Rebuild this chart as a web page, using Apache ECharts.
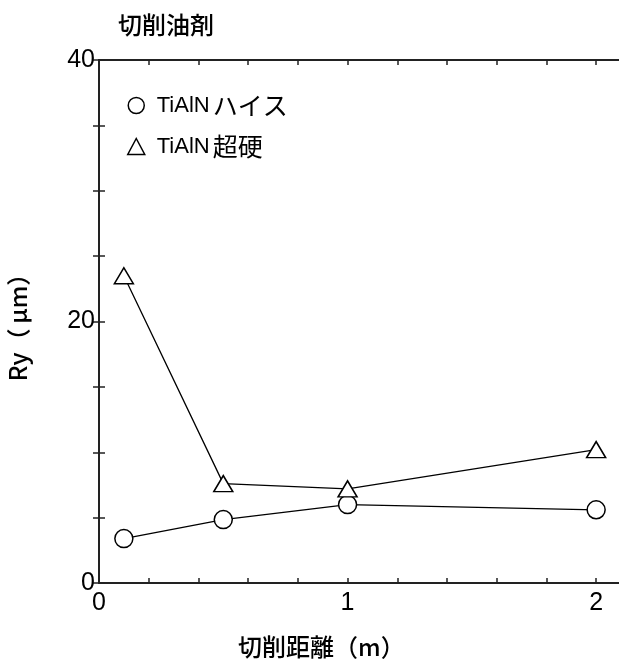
<!DOCTYPE html>
<html>
<head>
<meta charset="utf-8">
<script src="https://cdn.jsdelivr.net/npm/echarts@6/dist/echarts.min.js"></script>
<style>
html,body{margin:0;padding:0;background:#fff;}
#c{width:619px;height:661px;}
</style>
</head>
<body>
<div id="c"></div>
<script>
const titleText = '切削油剤';
const xName = '切削距離（m）';
const yName = 'Ry（\u2009μm）';
const seriesNames = ['TiAlNハイス', 'TiAlN超硬'];
const xValues = [0.1, 0.5, 1, 2];
const hssValues = [3.4, 4.85, 6.0, 5.6];
const carbideValues = [23.5, 7.6, 7.2, 10.2];
const xTickLabels = [0, 1, 2];
const yTickLabels = [0, 20, 40];

const FONT = '"Liberation Sans", Arial, "Noto Sans CJK JP", sans-serif';
const CJK = '"Noto Sans CJK JP", sans-serif';
const AX = '#222';

function pairs(ys){ return xValues.map((x,i)=>[x, ys[i]]); }
function xLab(v){ const r=Math.round(v); return (Math.abs(v-r)<1e-6 && xTickLabels.indexOf(r)>=0) ? String(r) : ''; }
function yLab(v){ const r=Math.round(v); return (Math.abs(v-r)<1e-6 && yTickLabels.indexOf(r)>=0) ? String(r) : ''; }
function legendFmt(name){
  const m = name.match(/^([A-Za-z]+)(.*)$/);
  return m ? '{a|' + m[1] + '}{b|' + m[2] + '}' : name;
}

const chart = echarts.init(document.getElementById('c'), null, {renderer:'canvas'});
const gridBox = {left:99, top:60, width:522, height:523, containLabel:false, outerBoundsMode:'none'};
const baseX = {type:'value', min:0, max:2.1, interval:0.2, splitLine:{show:false}};
const baseY = {type:'value', min:0, max:40, interval:5, splitLine:{show:false}};
chart.setOption({
  animation:false,
  backgroundColor:'#fff',
  title:[
    {text:titleText, left:113, top:8, textStyle:{fontFamily:CJK, fontSize:24, fontWeight:500, color:'#000'}},
    {text:xName, left:233, top:630, textStyle:{fontFamily:CJK, fontSize:24, fontWeight:500, color:'#000'}}
  ],
  legend:{
    orient:'vertical', left:122, top:88, itemWidth:17, itemHeight:16, itemGap:16,
    data:[{name:seriesNames[0], icon:'circle'}, {name:seriesNames[1], icon:'triangle'}],
    itemStyle:{color:'#fff', borderColor:'#000', borderWidth:1.5},
    formatter:legendFmt,
    textStyle:{fontFamily:FONT, fontSize:22, color:'#000', padding:[0,0,0,7],
      rich:{
        a:{fontFamily:FONT, fontSize:22, color:'#000', verticalAlign:'middle'},
        b:{fontFamily:CJK, fontSize:25, color:'#000', padding:[0,0,0,3], verticalAlign:'middle'}
      }}
  },
  grid:gridBox,
  xAxis:[
    Object.assign({}, baseX, {position:'bottom',
      axisLine:{show:true, onZero:false, lineStyle:{color:AX, width:2}},
      axisTick:{show:true, inside:true, length:5, lineStyle:{color:AX, width:1.5}},
      axisLabel:{show:true, formatter:xLab, margin:8, fontFamily:FONT, fontSize:25, color:'#000', showMaxLabel:true}}),
    Object.assign({}, baseX, {position:'top',
      axisLine:{show:true, onZero:false, lineStyle:{color:AX, width:2}},
      axisTick:{show:true, inside:true, length:5, lineStyle:{color:AX, width:1.5}},
      axisLabel:{show:false}})
  ],
  yAxis:[
    Object.assign({}, baseY, {position:'left', name:yName, nameLocation:'middle', nameGap:69, nameRotate:90,
      nameTextStyle:{fontFamily:CJK, fontSize:24, fontWeight:500, color:'#000'},
      axisLine:{show:true, onZero:false, lineStyle:{color:AX, width:2}},
      axisTick:{show:true, inside:true, length:6, lineStyle:{color:AX, width:1.5}},
      axisLabel:{show:true, formatter:yLab, margin:4, fontFamily:FONT, fontSize:25, color:'#000', showMaxLabel:true, showMinLabel:true}}),
    Object.assign({}, baseY, {position:'right',
      axisLine:{show:false},
      axisTick:{show:true, inside:true, length:6, lineStyle:{color:AX, width:1.5}},
      axisLabel:{show:false}})
  ],
  series:[
    {name:seriesNames[0], type:'line', xAxisIndex:0, yAxisIndex:0, data:pairs(hssValues),
     symbol:'circle', symbolSize:18, showAllSymbol:true,
     lineStyle:{color:'#000', width:1.3}, itemStyle:{color:'#fff', borderColor:'#000', borderWidth:1.5}, z:3},
    {name:seriesNames[1], type:'line', xAxisIndex:0, yAxisIndex:0, data:pairs(carbideValues),
     symbol:'triangle', symbolSize:[19,16], showAllSymbol:true,
     lineStyle:{color:'#000', width:1.3}, itemStyle:{color:'#fff', borderColor:'#000', borderWidth:1.5}, z:3}
  ]
});
</script>
</body>
</html>
